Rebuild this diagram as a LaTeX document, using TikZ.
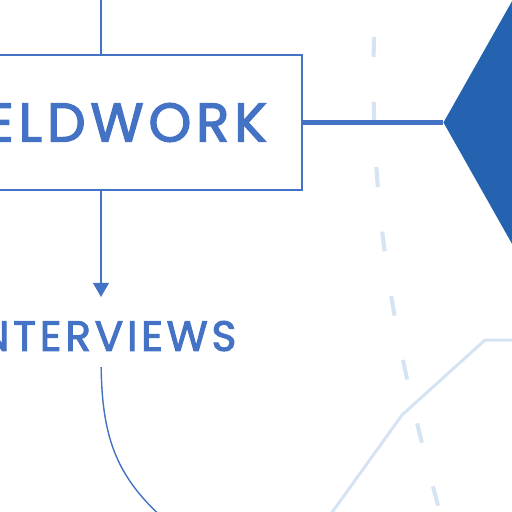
\documentclass[tikz,border=0pt]{standalone}
\usepackage{fontspec}
\setmainfont{Poppins}[LetterSpace=9, FakeBold=2.5]
\usetikzlibrary{shapes.geometric, arrows.meta, positioning}
\definecolor{inkblue}{HTML}{4472C4}
\definecolor{deepblue}{HTML}{2563B0}
\definecolor{paleblue}{HTML}{D5E3F2}
\tikzset{
  stage/.style={
    rectangle, draw=inkblue, line width=1.2pt, fill=white,
    text centered, minimum width=8.04cm, minimum height=2.7cm,
    text=inkblue, font=\fontsize{31}{31}\selectfont
  },
  method/.style={
    text=inkblue, inner sep=0pt, outer sep=0pt,
    font=\fontsize{24}{24}\selectfont
  },
  gate/.style={
    diamond, fill=deepblue, draw=none,
    minimum width=5.2cm, minimum height=9.2cm, inner sep=0pt
  },
  arr/.style={-{Triangle[length=8pt, width=9pt]}, inkblue, line width=0.8pt},
  link/.style={inkblue, line width=0.8pt},
  bar/.style={inkblue, line width=3.4pt},
  trail/.style={paleblue, line width=2.3pt, dash pattern=on 0.4cm off 0.9cm},
  route/.style={paleblue, line width=1.7pt},
}

\begin{document}
\begin{tikzpicture}[x=0.02cm, y=-0.02cm]
  \useasboundingbox (0,0) rectangle (512,512);
  \clip (0,0) rectangle (512,512);

  % ── nodes ─────────────────────────────────────────────────────────────────
  \node[stage] (fieldwork) at (101,122.5) {FIELDWORK};
  \node[method, below=2.6cm of fieldwork] (interviews) {INTERVIEWS};
  \node[gate, right=2.8cm of fieldwork] (decide) {};

  \coordinate (top)   at (101,0);
  \coordinate (drift) at (165,520);

  % background trails
  \draw[trail] (374,37) .. controls (370,200) and (390,330) .. (442,520);
  \draw[route] (520,340) -- (485,340) -- (402,415) -- (328,518);

  % ── edges ─────────────────────────────────────────────────────────────────
  \draw[link] (top) -- (fieldwork.north);
  \draw[arr, shorten >=0.48cm] (fieldwork) -- (interviews);
  \draw[bar]  (fieldwork.east) -- (decide.west);
  \draw[link, shorten <=0.32cm] (interviews.south)
    .. controls (102,440) and (118,478) .. (drift);

\end{tikzpicture}
\end{document}
